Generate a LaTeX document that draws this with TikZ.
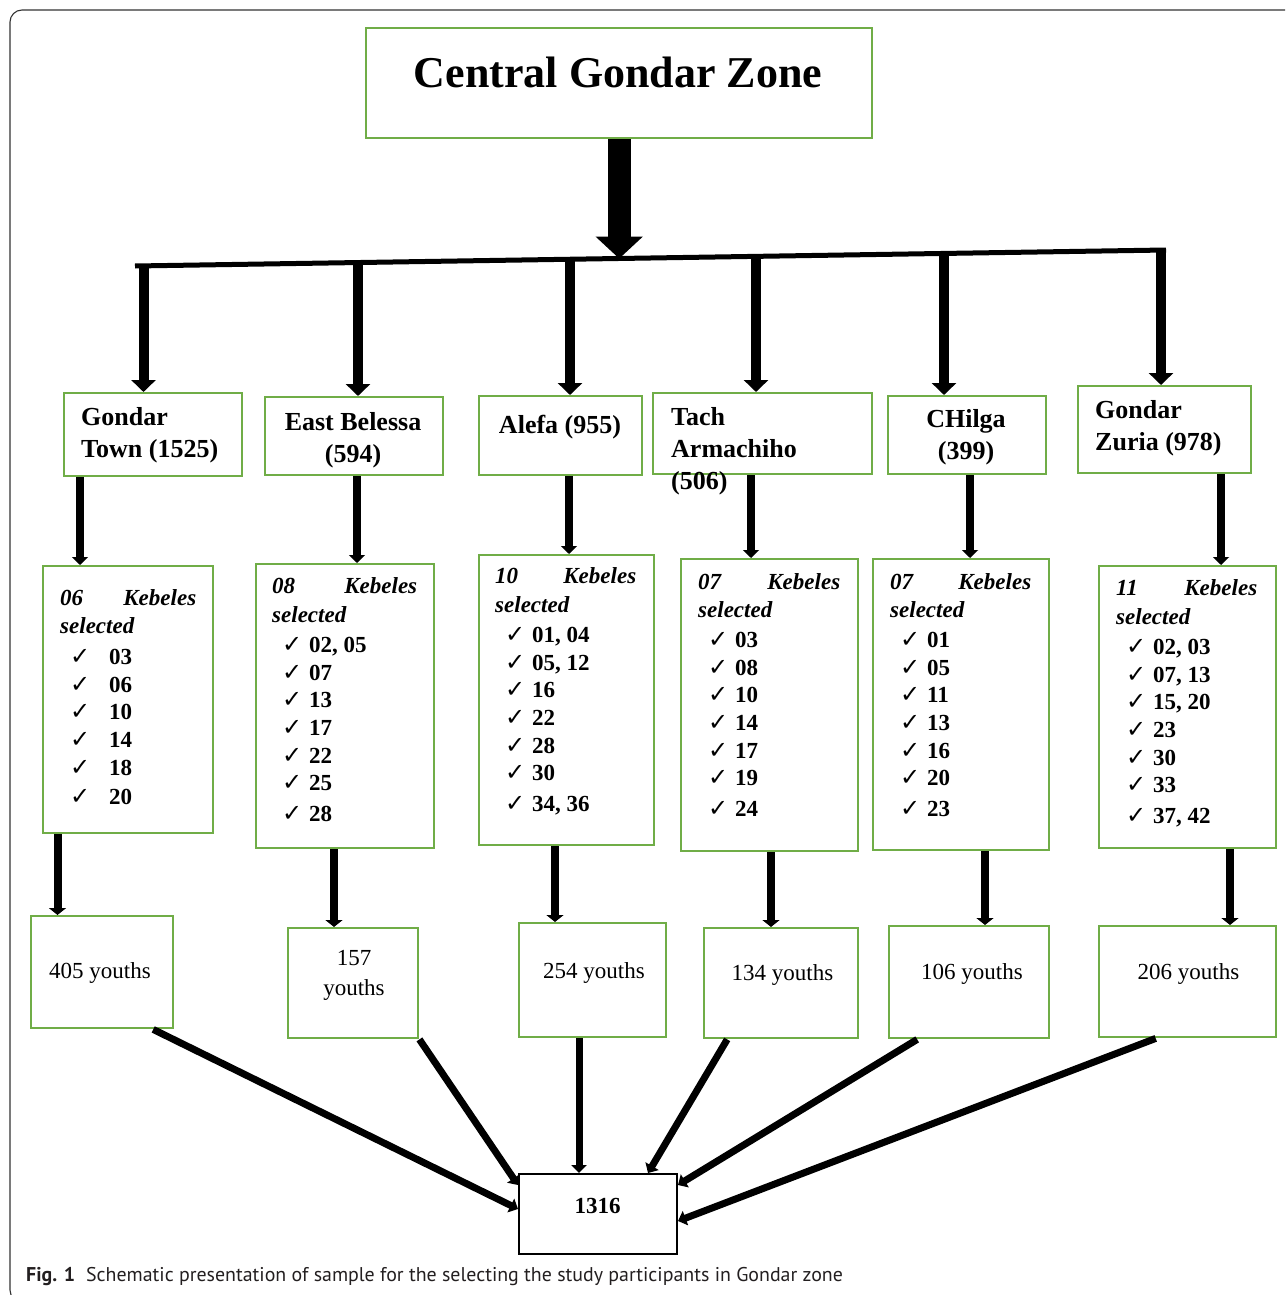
\documentclass[tikz,border=0pt]{standalone}
\usepackage{fontspec}
\setmainfont{Liberation Serif}
\newfontfamily\capfont{PT Sans}
\newfontfamily\symfont{DejaVu Sans}
\usetikzlibrary{arrows.meta,calc}
\definecolor{boxgreen}{HTML}{70AD47}
\definecolor{capgray}{HTML}{231F20}
\newcommand{\ck}[2][27pt]{\hspace*{10pt}\makebox[#1][l]{\symfont\mdseries\fontsize{24}{24}\selectfont ✓}#2}
\begin{document}
\begin{tikzpicture}[x=1pt,y=-1pt,
  gbox/.style={draw=boxgreen,line width=2.4pt,inner sep=0pt,anchor=north west},
  bbox/.style={draw=black,line width=2pt,inner sep=0pt,anchor=north west},
  txt/.style={inner sep=0pt},
  bigarr/.style={line width=23pt,-{Triangle[width=46pt,length=22pt]}},
  distarr/.style={line width=10pt,-{Triangle[width=24pt,length=12pt]}},
  kebarr/.style={line width=8pt,-{Triangle[width=16pt,length=8pt]}},
  youarr/.style={line width=8pt,-{Triangle[width=17pt,length=7pt]}},
  sumarr/.style={line width=7pt,-{Triangle[width=15pt,length=8pt]}},
  dfont/.style={font=\fontsize{26}{32}\selectfont\bfseries},
  kfont/.style={font=\fontsize{23}{27.7}\selectfont\bfseries},
  yfont/.style={font=\fontsize{23}{30}\selectfont},
]
\useasboundingbox (0,0) rectangle (1285,1295);
\begin{scope}
  \clip (0,0) rectangle (1285,1295);
  \draw[black!80,line width=1.1pt,rounded corners=12pt] (10,10) rectangle (1320,1302);
\end{scope}

% top box
\node[gbox,minimum width=506pt,minimum height=110pt] (top) at (365,27) {};
\node[txt,anchor=base,font=\fontsize{44}{50}\selectfont\bfseries] (toptxt) at (618,88) {Central Gondar Zone};

% bar
\coordinate (barL) at (135,266);
\coordinate (barR) at (1166,250);
\coordinate (bm) at (618,258.6);
\draw[line width=5pt] (barL) -- (barR);
\draw[bigarr] (top.south) -- (top.south |- bm);

% district boxes
\node[gbox,minimum width=178pt,minimum height=83pt] (d1) at (63,392) {};
\node[gbox,minimum width=178pt,minimum height=78pt] (d2) at (264,396) {};
\node[gbox,minimum width=163pt,minimum height=79pt] (d3) at (478,395) {};
\node[gbox,minimum width=219pt,minimum height=81pt] (d4) at (652,392) {};
\node[gbox,minimum width=158pt,minimum height=78pt] (d5) at (887,395) {};
\node[gbox,minimum width=173pt,minimum height=87pt] (d6) at (1077,385) {};

\node[txt,dfont,anchor=base west] (d1t) at (81,425) {\begin{tabular}[t]{@{}l@{}}Gondar\\Town (1525)\end{tabular}};
\node[txt,dfont,anchor=base] (d2t) at (353,430) {\begin{tabular}[t]{@{}c@{}}East Belessa\\(594)\end{tabular}};
\node[txt,dfont,anchor=base] (d3t) at (560,433) {Alefa (955)};
\node[txt,dfont,anchor=base west] (d4t) at (671,425) {\begin{tabular}[t]{@{}l@{}}Tach\\Armachiho\\(506)\end{tabular}};
\node[txt,dfont,anchor=base] (d5t) at (966,427) {\begin{tabular}[t]{@{}c@{}}CHilga\\(399)\end{tabular}};
\node[txt,dfont,anchor=base west] (d6t) at (1095,418) {\begin{tabular}[t]{@{}l@{}}Gondar\\Zuria (978)\end{tabular}};

% bar -> district arrows
\coordinate (b1) at (143.5,265.9);
\coordinate (b2) at (358,262.5);
\coordinate (b3) at (570,259.2);
\coordinate (b4) at (756,256.4);
\coordinate (b5) at (944,253.4);
\coordinate (b6) at (1161,250.1);
\draw[distarr] (b1) -- (b1 |- d1.north);
\draw[distarr] (b2) -- (b2 |- d2.north);
\draw[distarr] (b3) -- (b3 |- d3.north);
\draw[distarr] (b4) -- (b4 |- d4.north);
\draw[distarr] (b5) -- (b5 |- d5.north);
\draw[distarr] (b6) -- (b6 |- d6.north);

% kebele boxes
\node[gbox,minimum width=170pt,minimum height=267pt] (k1) at (42,565) {};
\node[gbox,minimum width=178pt,minimum height=284pt] (k2) at (255,563) {};
\node[gbox,minimum width=175pt,minimum height=290pt] (k3) at (478,554) {};
\node[gbox,minimum width=177pt,minimum height=292pt] (k4) at (680,558) {};
\node[gbox,minimum width=176pt,minimum height=291pt] (k5) at (872,558) {};
\node[gbox,minimum width=177pt,minimum height=282pt] (k6) at (1098,565) {};

\node[txt,kfont,anchor=base west] (k1t) at (60,605) {\begin{tabular}[t]{@{}l@{}}
\makebox[136pt][l]{\textit{06}\hfill\textit{Kebeles}}\\[1pt]
\textit{selected}\\[3pt]
\ck[39pt]{03}\\ \ck[39pt]{06}\\ \ck[39pt]{10}\\ \ck[39pt]{14}\\ \ck[39pt]{18}\\[2pt] \ck[39pt]{20}
\end{tabular}};
\node[txt,kfont,anchor=base west] (k2t) at (272,593) {\begin{tabular}[t]{@{}l@{}}
\makebox[145pt][l]{\textit{08}\hfill\textit{Kebeles}}\\[2pt]
\textit{selected}\\[2pt]
\ck{02, 05}\\ \ck{07}\\ \ck{13}\\ \ck{17}\\ \ck{22}\\ \ck{25}\\[3pt] \ck{28}
\end{tabular}};
\node[txt,kfont,anchor=base west] (k3t) at (495,583) {\begin{tabular}[t]{@{}l@{}}
\makebox[141pt][l]{\textit{10}\hfill\textit{Kebeles}}\\[2pt]
\textit{selected}\\[2pt]
\ck{01, 04}\\ \ck{05, 12}\\ \ck{16}\\ \ck{22}\\ \ck{28}\\ \ck{30}\\[3pt] \ck{34, 36}
\end{tabular}};
\node[txt,kfont,anchor=base west] (k4t) at (698,589) {\begin{tabular}[t]{@{}l@{}}
\makebox[142pt][l]{\textit{07}\hfill\textit{Kebeles}}\\[1pt]
\textit{selected}\\[2pt]
\ck{03}\\ \ck{08}\\ \ck{10}\\ \ck{14}\\ \ck{17}\\ \ck{19}\\[3pt] \ck{24}
\end{tabular}};
\node[txt,kfont,anchor=base west] (k5t) at (890,589) {\begin{tabular}[t]{@{}l@{}}
\makebox[141pt][l]{\textit{07}\hfill\textit{Kebeles}}\\[1pt]
\textit{selected}\\[2pt]
\ck{01}\\ \ck{05}\\ \ck{11}\\ \ck{13}\\ \ck{16}\\ \ck{20}\\[3pt] \ck{23}
\end{tabular}};
\node[txt,kfont,anchor=base west] (k6t) at (1116,595) {\begin{tabular}[t]{@{}l@{}}
\makebox[141pt][l]{\textit{11}\hfill\textit{Kebeles}}\\[2pt]
\textit{selected}\\[2pt]
\ck{02, 03}\\ \ck{07, 13}\\ \ck{15, 20}\\ \ck{23}\\ \ck{30}\\ \ck{33}\\[3pt] \ck{37, 42}
\end{tabular}};

% district -> kebele arrows
\coordinate (e1) at (80,0);
\coordinate (e2) at (357,0);
\coordinate (e3) at (569,0);
\coordinate (e4) at (751,0);
\coordinate (e5) at (970,0);
\coordinate (e6) at (1221,0);
\draw[kebarr] (e1 |- d1.south) -- (e1 |- k1.north);
\draw[kebarr] (e2 |- d2.south) -- (e2 |- k2.north);
\draw[kebarr] (e3 |- d3.south) -- (e3 |- k3.north);
\draw[kebarr] (e4 |- d4.south) -- (e4 |- k4.north);
\draw[kebarr] (e5 |- d5.south) -- (e5 |- k5.north);
\draw[kebarr] (e6 |- d6.south) -- (e6 |- k6.north);

% youth boxes
\node[gbox,minimum width=142pt,minimum height=112pt] (y1) at (30,915) {};
\node[gbox,minimum width=130pt,minimum height=110pt] (y2) at (287,927) {};
\node[gbox,minimum width=147pt,minimum height=114pt] (y3) at (518,922) {};
\node[gbox,minimum width=154pt,minimum height=110pt] (y4) at (703,927) {};
\node[gbox,minimum width=160pt,minimum height=112pt] (y5) at (888,925) {};
\node[gbox,minimum width=177pt,minimum height=111pt] (y6) at (1098,925) {};

\node[txt,yfont,anchor=base] (y1t) at (100,978) {405 youths};
\node[txt,yfont,anchor=base] (y2t) at (354,965) {\begin{tabular}[t]{@{}c@{}}157\\youths\end{tabular}};
\node[txt,yfont,anchor=base] (y3t) at (594,978) {254 youths};
\node[txt,yfont,anchor=base] (y4t) at (782.5,980) {134 youths};
\node[txt,yfont,anchor=base] (y5t) at (972,979) {106 youths};
\node[txt,yfont,anchor=base] (y6t) at (1188.5,979) {206 youths};

% kebele -> youth arrows
\coordinate (f1) at (57.5,0);
\coordinate (f2) at (334,0);
\coordinate (f3) at (555,0);
\coordinate (f4) at (771,0);
\coordinate (f5) at (985,0);
\coordinate (f6) at (1230,0);
\draw[youarr] (f1 |- k1.south) -- (f1 |- y1.north);
\draw[youarr] (f2 |- k2.south) -- (f2 |- y2.north);
\draw[youarr] (f3 |- k3.south) -- (f3 |- y3.north);
\draw[youarr] (f4 |- k4.south) -- (f4 |- y4.north);
\draw[youarr] (f5 |- k5.south) -- (f5 |- y5.north);
\draw[youarr] (f6 |- k6.south) -- (f6 |- y6.north);

% total
\node[bbox,minimum width=158pt,minimum height=80pt] (tot) at (518,1173) {};
\node[txt,font=\fontsize{23}{27}\selectfont\bfseries,anchor=base] (tott) at (597.5,1213) {1316};

\coordinate (g3) at (579,0);
\draw[sumarr] ([xshift=51pt]y1.south) -- ([yshift=5pt]tot.west);
\draw[sumarr] (y2.south east) -- ([yshift=-12pt]tot.north west);
\draw[sumarr] (g3 |- y3.south) -- (g3 |- tot.north);
\draw[sumarr] ([xshift=-54pt]y4.south) -- ([xshift=50pt]tot.north);
\draw[sumarr] ([xshift=-52pt]y5.south) -- ([yshift=-12pt]tot.north east);
\draw[sumarr] ([xshift=-32pt]y6.south) -- ([yshift=-7pt]tot.east);

% caption
\node[txt,anchor=base west,font=\capfont\fontsize{19.9}{23}\selectfont,text=capgray] (cap) at (26,1281)
  {\textbf{Fig. 1}\hspace{0.55em}Schematic presentation of sample for the selecting the study participants in Gondar zone};
\end{tikzpicture}
\end{document}
